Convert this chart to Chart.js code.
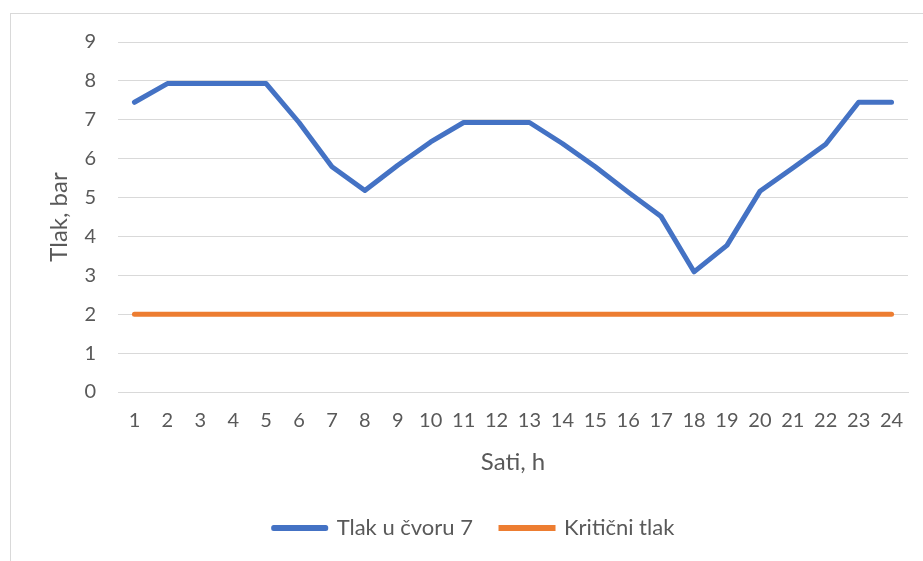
<!DOCTYPE html>
<html>
<head>
<meta charset="utf-8">
<script src="https://cdn.jsdelivr.net/npm/chart.js@4/dist/chart.umd.min.js"></script>
<style>
  html, body { margin: 0; padding: 0; background: #fff; }
  #wrap { position: relative; width: 923px; height: 561px; }
</style>
</head>
<body>
<div id="wrap"><canvas id="chart" width="923" height="561"></canvas></div>
<script>
const sati = ['1','2','3','4','5','6','7','8','9','10','11','12','13','14','15','16','17','18','19','20','21','22','23','24'];
const tlakCvor7 = [7.45, 7.93, 7.93, 7.93, 7.93, 6.93, 5.79, 5.18, 5.83, 6.43, 6.93, 6.93, 6.93, 6.39, 5.79, 5.14, 4.51, 3.09, 3.77, 5.16, 5.76, 6.37, 7.45, 7.45];
const kriticniTlak = [2, 2, 2, 2, 2, 2, 2, 2, 2, 2, 2, 2, 2, 2, 2, 2, 2, 2, 2, 2, 2, 2, 2, 2];
const yTicks = [0, 1, 2, 3, 4, 5, 6, 7, 8, 9];

const textColor = '#595959';
const gridColor = '#d9d9d9';
const fontFamily = 'Lato, "Open Sans", sans-serif';

// light frame around the chart, as in the Excel export
const frame = {
    id: 'frame',
    beforeDraw(chart) {
        const ctx = chart.ctx;
        ctx.save();
        ctx.strokeStyle = gridColor;
        ctx.lineWidth = 1;
        ctx.strokeRect(10.5, 13.5, 1000, 1000);
        ctx.restore();
    }
};

new Chart(document.getElementById('chart'), {
    type: 'line',
    data: {
        labels: sati,
        datasets: [
            {
                label: 'Tlak u čvoru 7',
                data: tlakCvor7,
                borderColor: '#4472c4',
                backgroundColor: '#4472c4',
                borderWidth: 5,
                borderCapStyle: 'round',
                borderJoinStyle: 'round',
                pointRadius: 0,
                tension: 0
            },
            {
                label: 'Kritični tlak',
                data: kriticniTlak,
                borderColor: '#ed7d31',
                backgroundColor: '#ed7d31',
                borderWidth: 5,
                borderCapStyle: 'round',
                pointRadius: 0,
                tension: 0
            }
        ]
    },
    options: {
        responsive: false,
        animation: false,
        events: [],
        layout: { padding: { left: 40, right: 15, top: 42, bottom: 12 } },
        plugins: {
            legend: {
                position: 'bottom',
                maxHeight: 74,
                labels: {
                    boxWidth: 52,
                    boxHeight: 1,
                    padding: 28,
                    color: textColor,
                    font: { family: fontFamily, size: 22 }
                }
            },
            tooltip: { enabled: false }
        },
        scales: {
            x: {
                offset: true,
                grid: { display: false, drawTicks: false },
                border: { display: true, color: gridColor, width: 1 },
                ticks: {
                    color: textColor,
                    padding: 17,
                    maxRotation: 0,
                    autoSkip: false,
                    font: { family: fontFamily, size: 20 }
                },
                title: {
                    display: true,
                    text: 'Sati, h',
                    color: textColor,
                    padding: { top: 0, bottom: 12 },
                    font: { family: fontFamily, size: 24 }
                },
                afterFit(scale) { scale.height = 97; }
            },
            y: {
                min: 0,
                max: 9,
                afterBuildTicks(scale) { scale.ticks = yTicks.map(v => ({ value: v })); },
                grid: { color: gridColor, lineWidth: 1, drawTicks: false },
                border: { display: false },
                ticks: {
                    color: textColor,
                    padding: 22,
                    font: { family: fontFamily, size: 20 }
                },
                title: {
                    display: true,
                    text: 'Tlak, bar',
                    color: textColor,
                    padding: { top: 5, bottom: 0 },
                    font: { family: fontFamily, size: 24 }
                },
                afterFit(scale) { scale.width = 78; }
            }
        }
    },
    plugins: [frame]
});
</script>
</body>
</html>
